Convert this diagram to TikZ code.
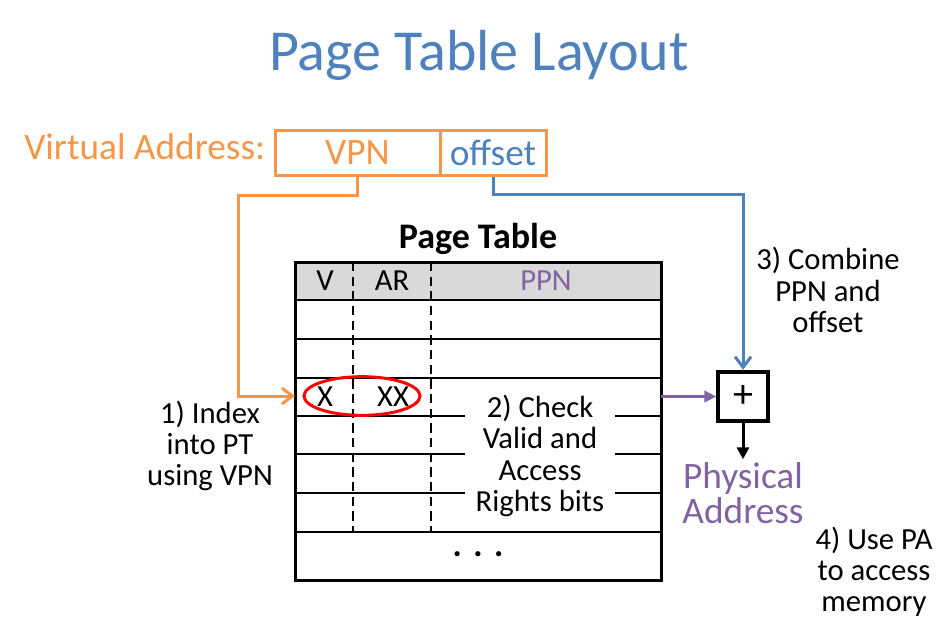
\documentclass[tikz,border=0pt]{standalone}
\usepackage{fontspec}
\setmainfont{Carlito}
\usepackage{tikz}
\usetikzlibrary{arrows.meta,positioning,calc}

\definecolor{vaorange}{HTML}{F79646}
\definecolor{vablue}{HTML}{4F81BD}
\definecolor{papurple}{HTML}{8064A2}
\definecolor{headgray}{HTML}{D9D9D9}

\begin{document}
\begin{tikzpicture}[
  x=0.75pt, y=-0.75pt,
  titletext/.style={text=vablue, font=\fontsize{43.5}{46}\selectfont, anchor=base},
  vatext/.style={text=vaorange, font=\fontsize{28}{30}\selectfont},
  fieldbox/.style={draw=vaorange, line width=2.25pt, inner sep=0pt, minimum height=33.75pt, font=\fontsize{28}{30}\selectfont},
  cell/.style={font=\fontsize{23}{25}\selectfont, inner sep=0pt},
  steptext/.style={align=center, font=\fontsize{23}{23.4}\selectfont, inner sep=1pt},
  plusbox/.style={draw, line width=3pt, minimum size=37pt, inner sep=0pt, font=\fontsize{30}{30}\selectfont},
  rowline/.style={line width=1.1pt},
  colline/.style={line width=1.1pt, dash pattern=on 7pt off 4pt},
  tableborder/.style={line width=2.25pt},
  vpnarrow/.style={draw=vaorange, line width=2.25pt, -{Straight Barb[length=8pt, width=12pt]}},
  offarrow/.style={draw=vablue, line width=2.25pt, -{Straight Barb[length=8pt, width=12pt]}},
  ppnarrow/.style={draw=papurple, line width=2.25pt, -{Triangle[length=9pt, width=8.5pt]}},
  paarrow/.style={line width=2.25pt, -{Triangle[length=9pt, width=9pt]}}
]
\useasboundingbox (0,0) rectangle (946,625);

% title
\node[titletext] (title) at (479,70) {Page Table Layout};

% virtual address
\node[vatext, anchor=base west, inner sep=0pt] (valabel) at (24,159) {Virtual Address:};
\node[fieldbox, text=vaorange, minimum width=123.75pt] (vpn) at (357.5,152.5) {VPN};
\node[fieldbox, text=vablue, minimum width=79.5pt] (offset) at (493,152.5) {offset};

% page table
\node[font=\bfseries\fontsize{27}{29}\selectfont] (pttitle) at (478,239) {Page Table};
\fill[headgray] (295,262) rectangle (661,300);
\foreach \y in {300,339,378,416,454,493,532}
  \draw[rowline] (295,\y) -- (661,\y);
\foreach \x in {353,431}
  \draw[colline] (\x,262) -- (\x,532);
\draw[tableborder] (295,262) rectangle (661,580);

\node[cell] (hv) at (325,281) {V};
\node[cell] (har) at (392,281) {AR};
\node[cell, text=papurple] (hppn) at (546,281) {PPN};
\node[cell] (xv) at (325,397) {X};
\node[cell] (xar) at (393,397) {XX};
\draw[red, line width=2.25pt] (362,396) ellipse [x radius=43.5pt, y radius=14.5pt];
\node[cell, font=\bfseries\fontsize{26}{28}\selectfont] (dots) at (478,554) {.\,\,.\,\,.};

\node[steptext, fill=white, inner xsep=8pt] (step2) at (540,456)
  {2) Check\\Valid and\\Access\\Rights bits};

% adder and physical address
\node[plusbox] (plus) at (743,396.5) {+};
\node[align=center, text=papurple, inner sep=2pt, font=\fontsize{28}{26.5}\selectfont] (pa) at (743,493) {Physical\\Address};

% steps
\node[steptext] (step1) at (210,446) {1) Index\\into PT\\using VPN};
\node[steptext] (step3) at (828,290) {3) Combine\\PPN and\\offset};
\node[steptext] (step4) at (874,572) {4) Use PA\\to access\\memory};

% connectors
\coordinate (entry) at (295,396);
\coordinate (ppnout) at (661,396.5);
\draw[vpnarrow] (vpn.south) -- ++(0,19) -| (238,396) -- (entry);
\draw[offarrow] (offset.south) -- ++(0,18) -| (plus.north);
\draw[ppnarrow] (ppnout) -- (plus.west);
\draw[paarrow] (plus.south) -- (pa.north);
\end{tikzpicture}
\end{document}
